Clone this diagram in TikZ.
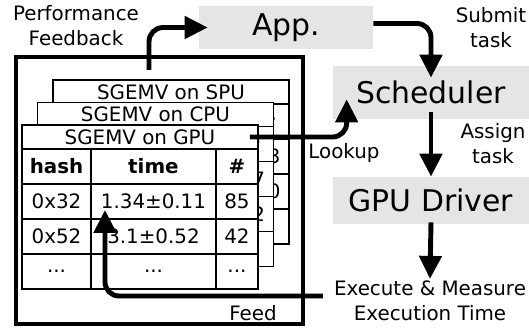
\documentclass[tikz,border=0pt]{standalone}
\usepackage{fontspec}
\setmainfont{DejaVu Sans}
\usetikzlibrary{arrows.meta,calc,positioning}

\begin{document}
\begin{tikzpicture}
[x=0.02cm, y=-0.02cm, >={Triangle[length=0.46cm,width=0.44cm]}, font=\fontsize{11.3}{14.2}\selectfont]
\tikzstyle{box}=[fill=black!10, font=\fontsize{17}{20}\selectfont, inner sep=0pt]
\tikzstyle{lbl}=[align=center, inner sep=1pt]
\tikzstyle{head}=[draw, fill=white, line width=0.7pt, outer sep=0pt, inner sep=0pt, anchor=north west, minimum width=4.72cm, minimum height=0.48cm]
\tikzstyle{cell}=[draw, fill=white, line width=0.7pt, outer sep=0pt, inner sep=0pt, anchor=north west, minimum height=0.7cm]
\tikzstyle{hcol}=[cell, minimum width=1.38cm]
\tikzstyle{tcol}=[cell, minimum width=2.5cm]
\tikzstyle{ncol}=[cell, minimum width=0.84cm]
\tikzstyle{flow}=[->, line width=2.8pt, rounded corners=8pt]

\useasboundingbox (0,0) rectangle (529,328);

\node[box, minimum width=3.48cm, minimum height=0.86cm] (app) at (286,27.5) {App.};
\node[box, minimum width=3.92cm, minimum height=1.06cm] (sched) at (431,92.5) {Scheduler};
\node[box, minimum width=3.92cm, minimum height=0.94cm] (drv) at (431,200.5) {GPU Driver};
\node[lbl] (exec) at (430,301) {Execute \& Measure\\Execution Time};

\node[lbl] (perf) at (76,26) {Performance\\Feedback};
\node[lbl] (submit) at (491,28) {Submit\\task};
\node[lbl] (assign) at (493,144) {Assign\\task};
\node[lbl] (lookup) at (344,153) {Lookup};
\node[lbl] (feed) at (253,313) {Feed};

\node[draw, line width=2.8pt, inner sep=0pt, minimum width=5.74cm, minimum height=5.34cm] (store) at (159.5,190.5) {};

\node[head] (spu_head) at (53,80) {SGEMV on SPU};
\node[cell, minimum width=3.88cm, minimum height=2.8cm] (spu_body) at (spu_head.south west) {};
\node[ncol] (spu_num) at (spu_body.north east) {\textbf{\#}};
\node[ncol] (spu_n1) at (spu_num.south west) {63};
\node[ncol] (spu_n2) at (spu_n1.south west) {20};
\node[ncol] (spu_n3) at (spu_n2.south west) {};

\node[head] (cpu_head) at (37.5,102.5) {SGEMV on CPU};
\node[cell, minimum width=3.88cm, minimum height=2.8cm] (cpu_body) at (cpu_head.south west) {};
\node[ncol] (cpu_num) at (cpu_body.north east) {\textbf{\#}};
\node[ncol] (cpu_n1) at (cpu_num.south west) {17};
\node[ncol] (cpu_n2) at (cpu_n1.south west) {12};
\node[ncol] (cpu_n3) at (cpu_n2.south west) {};

\node[head] (gpu_head) at (22,125) {SGEMV on GPU};
\node[hcol] (gpu_hash) at (gpu_head.south west) {\textbf{hash}};
\node[tcol] (gpu_time) at (gpu_hash.north east) {\textbf{time}};
\node[ncol] (gpu_num) at (gpu_time.north east) {\textbf{\#}};
\node[hcol] (gpu_h1) at (gpu_hash.south west) {0x32};
\node[tcol] (gpu_t1) at (gpu_h1.north east) {1.34±0.11};
\node[ncol] (gpu_n1) at (gpu_t1.north east) {85};
\node[hcol] (gpu_h2) at (gpu_h1.south west) {0x52};
\node[tcol] (gpu_t2) at (gpu_h2.north east) {3.1±0.52};
\node[ncol] (gpu_n2) at (gpu_t2.north east) {42};
\node[hcol] (gpu_h3) at (gpu_h2.south west) {...};
\node[tcol] (gpu_t3) at (gpu_h3.north east) {...};
\node[ncol] (gpu_n3) at (gpu_t3.north east) {...};

\coordinate (fb_out) at (149,70);
\coordinate (feed_in) at (323,296);

\draw[flow] (fb_out) |- ($(app.west)+(9,0)$);
\draw[flow] ($(app.east)+(0,-4)$) -| ($(sched.north)+(0,12)$);
\draw[flow] ($(sched.south)+(0,-7)$) -- (drv.north);
\draw[flow] ($(drv.south)+(0,-2)$) -- (exec.north);
\draw[flow] ($(gpu_head.east)+(-8,0)$) -| ($(sched.south west)+(14,-20)$);
\draw[flow] (feed_in) -| ($(gpu_t1.south west)+(14,-9)$);
\end{tikzpicture}
\end{document}
